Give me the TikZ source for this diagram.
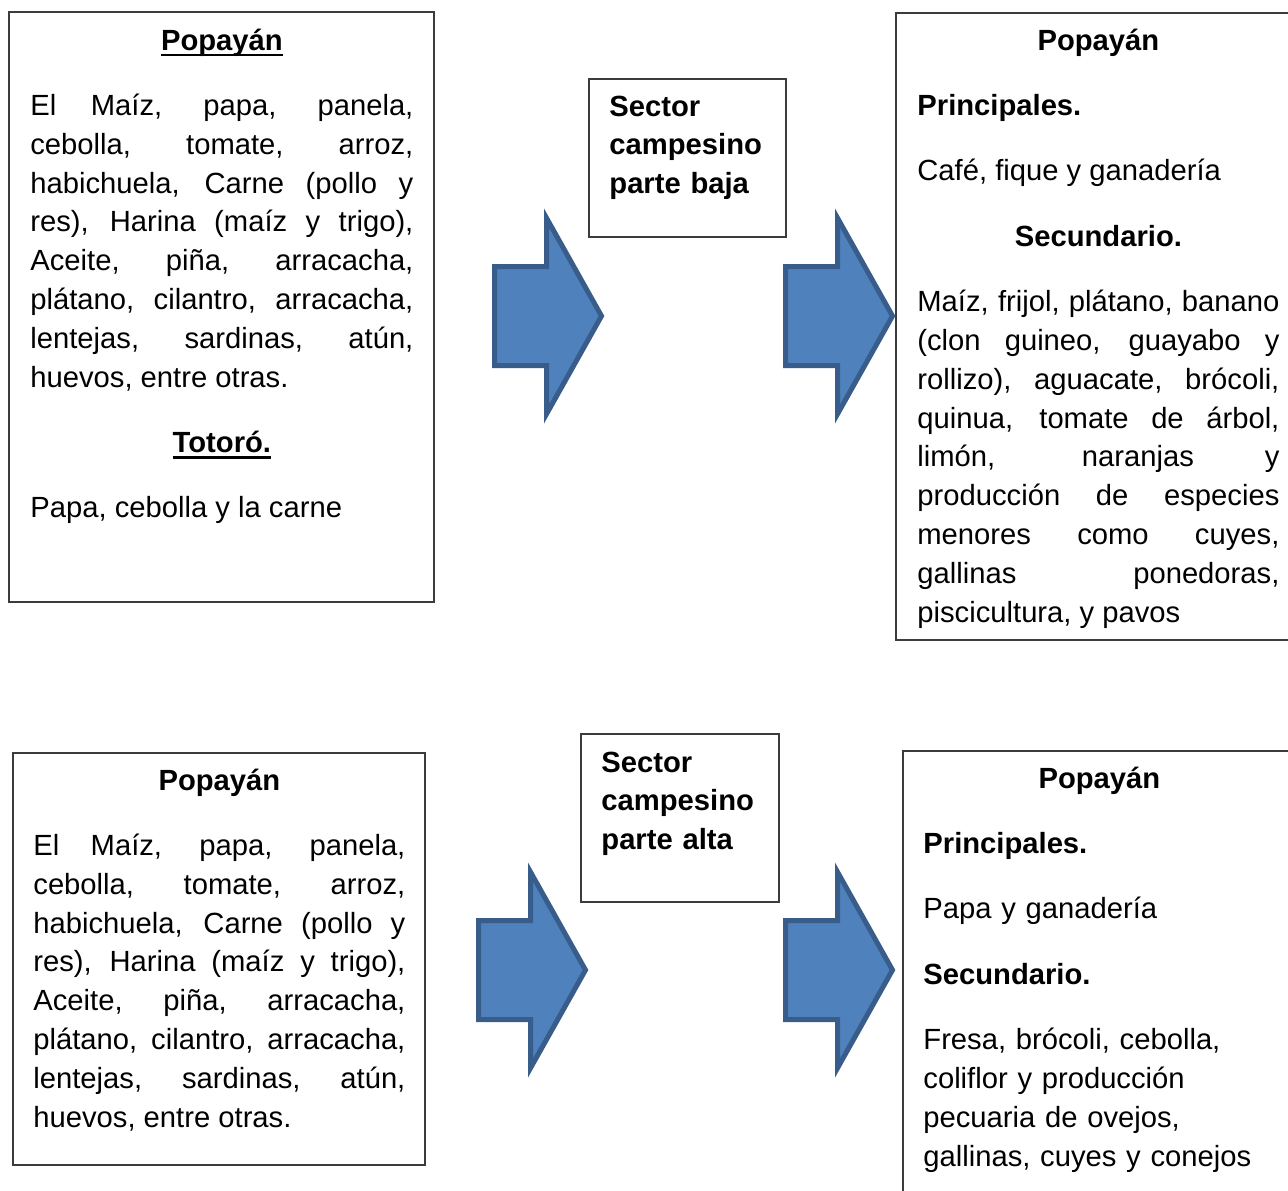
\documentclass[tikz,border=0pt]{standalone}
\usepackage{fontspec}
\setmainfont{Liberation Sans}
\definecolor{arrowfill}{HTML}{4F81BD}
\definecolor{arrowline}{HTML}{385D8A}
\definecolor{boxline}{HTML}{3C3C3C}
\newcommand\bodyfont{\fontsize{14.6}{19.4}\selectfont\parskip=13.3pt\tolerance=10000\hbadness=10000}
\newcommand\underword[1]{\leavevmode\setbox0\hbox{#1}\rlap{\rule[-3.2pt]{\wd0}{1.3pt}}\box0}
\tikzset{
  box/.style={draw=boxline, line width=0.8pt},
  body/.style={anchor=base west, inner sep=0, align=justify, font=\bodyfont},
  block arrow/.style={fill=arrowfill, draw=arrowline, line width=2.5pt, line join=miter}
}
\def\bigArrow{(2.5,-49.5) -- (54.5,-49.5) -- (54.5,-98) -- (109.5,0) -- (54.5,98) -- (54.5,49.5) -- (2.5,49.5) -- cycle}

\begin{document}
\begin{tikzpicture}[x=0.5pt, y=-0.5pt]

    \clip (0,0) rectangle (1288,1190);
    \useasboundingbox (0,0) rectangle (1288,1190);

    % upper row: parte baja
    \draw[box] (9,12) rectangle (434,602);
    \draw[box] (589,79) rectangle (786,237);
    \draw[box] (896,13) rectangle (1310,640);

    \node[body, text width=191.5pt] (popayanBaja) at (30,50) {%
      {\centering\bfseries\underword{Popayán}\par}
      El Maíz, papa, panela,\linebreak cebolla, tomate, arroz,\linebreak
      habichuela, Carne (pollo y\linebreak res), Harina (maíz y trigo),\linebreak
      Aceite, piña, arracacha,\linebreak plátano, cilantro, arracacha,\linebreak
      lentejas, sardinas, atún,\linebreak huevos, entre otras.\par
      {\centering\bfseries\underword{Totoró.}\par}
      Papa, cebolla y la carne};

    \node[body, text width=85pt, align=left, font=\bodyfont\bfseries] (sectorBaja) at (609,116)
      {Sector\\campesino\\parte baja};

    \node[body, text width=181pt] (productosBaja) at (917,50) {%
      {\centering\bfseries Popayán\par}
      {\bfseries Principales.\par}
      Café, fique y ganadería\par
      {\centering\bfseries Secundario.\par}
      Maíz, frijol, plátano, banano\linebreak (clon guineo, guayabo y\linebreak
      rollizo), aguacate, brócoli,\linebreak quinua, tomate de árbol,\linebreak
      limón, naranjas y\linebreak producción de especies\linebreak
      menores como cuyes,\linebreak gallinas ponedoras,\linebreak
      piscicultura, y pavos};

    \draw[block arrow, shift={(492,316)}] \bigArrow;
    \draw[block arrow, shift={(783,316)}] \bigArrow;

    % lower row: parte alta
    \draw[box] (13,753) rectangle (425,1165);
    \draw[box] (581,734) rectangle (779,902);
    \draw[box] (903,751) rectangle (1310,1210);

    \node[body, text width=186pt] (popayanAlta) at (33,790) {%
      {\centering\bfseries Popayán\par}
      El Maíz, papa, panela,\linebreak cebolla, tomate, arroz,\linebreak
      habichuela, Carne (pollo y\linebreak res), Harina (maíz y trigo),\linebreak
      Aceite, piña, arracacha,\linebreak plátano, cilantro, arracacha,\linebreak
      lentejas, sardinas, atún,\linebreak huevos, entre otras.};

    \node[body, text width=85pt, align=left, font=\bodyfont\bfseries] (sectorAlta) at (601,772)
      {Sector\\campesino\\parte alta};

    \node[body, text width=176pt, align=left] (productosAlta) at (923,788) {%
      {\centering\bfseries Popayán\par}
      {\bfseries Principales.\par}
      Papa y ganadería\par
      {\bfseries Secundario.\par}
      Fresa, brócoli, cebolla,\\ coliflor y producción\\
      pecuaria de ovejos,\\ gallinas, cuyes y conejos};

    \draw[block arrow, shift={(476,970)}] \bigArrow;
    \draw[block arrow, shift={(783,970)}] \bigArrow;

\end{tikzpicture}
\end{document}
